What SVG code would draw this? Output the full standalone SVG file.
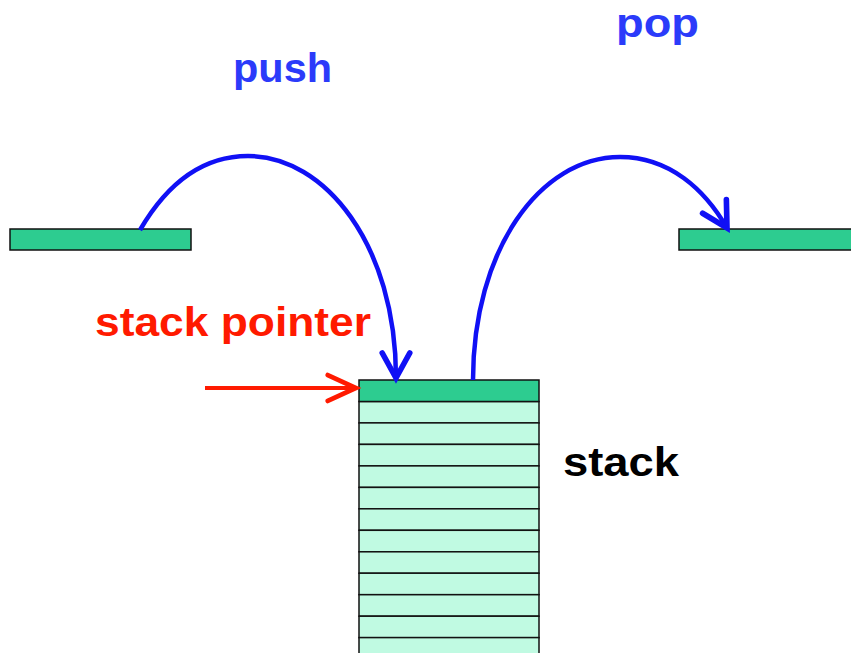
<svg xmlns="http://www.w3.org/2000/svg" width="851" height="653" viewBox="0 0 851 653">
<defs>
<style>
.t{font-family:"Liberation Sans",Arial,sans-serif;font-weight:bold;font-size:40px}
.blue{fill:#2B3BFA}
.red{fill:#FF1A00}
.dark{fill:#2DCC90;stroke:#111;stroke-width:1.5}
.light{fill:#C0FAE2;stroke:#111;stroke-width:1.5}
.arc{fill:none;stroke:#1010F5;stroke-width:4.5}
</style>
<marker id="ab" markerUnits="userSpaceOnUse" markerWidth="40" markerHeight="40" viewBox="-24 -16 30 32" refX="0" refY="0" orient="auto">
<path d="M-20,-11 L0,0 L-20,11" fill="none" stroke="#1010F5" stroke-width="4.5" stroke-linecap="round"/>
</marker>
<marker id="ar" markerUnits="userSpaceOnUse" markerWidth="40" markerHeight="40" viewBox="-30 -16 34 32" refX="0" refY="0" orient="auto">
<path d="M-24,-11 L0,0 L-24,11" fill="none" stroke="#FF1A00" stroke-width="4" stroke-linecap="round"/>
</marker>
</defs>
<rect width="851" height="653" fill="#fff"/>
<g id="left-item"><rect class="dark" x="10" y="229" width="181" height="21"/></g>
<g id="right-item"><rect class="dark" x="679" y="229" width="175" height="21"/></g>
<g id="stack">
<rect class="light" x="359" y="401.5" width="180" height="21.47"/>
<rect class="light" x="359" y="422.9" width="180" height="21.47"/>
<rect class="light" x="359" y="444.4" width="180" height="21.47"/>
<rect class="light" x="359" y="465.9" width="180" height="21.47"/>
<rect class="light" x="359" y="487.4" width="180" height="21.47"/>
<rect class="light" x="359" y="508.8" width="180" height="21.47"/>
<rect class="light" x="359" y="530.3" width="180" height="21.47"/>
<rect class="light" x="359" y="551.8" width="180" height="21.47"/>
<rect class="light" x="359" y="573.2" width="180" height="21.47"/>
<rect class="light" x="359" y="594.7" width="180" height="21.47"/>
<rect class="light" x="359" y="616.2" width="180" height="21.47"/>
<rect class="light" x="359" y="637.6" width="180" height="21.47"/>
<rect class="dark" x="359" y="380" width="180" height="21.5"/>
</g>
<g id="labels">
<text class="t blue" x="233" y="82" textLength="99" lengthAdjust="spacingAndGlyphs">push</text>
<text class="t blue" x="616" y="37" textLength="83" lengthAdjust="spacingAndGlyphs">pop</text>
<text class="t red" x="95" y="336" textLength="276" lengthAdjust="spacingAndGlyphs">stack pointer</text>
<text class="t" x="563" y="476" fill="#000" textLength="116" lengthAdjust="spacingAndGlyphs">stack</text>
</g>
<g id="connectors">
<path class="arc" d="M140,230 C175,170 215,156 248,156 C325,156 396,245 396,378" marker-end="url(#ab)"/>
<path class="arc" d="M473,380 C473,250 540,157 620,157 C670,157 705,190 727,228" marker-end="url(#ab)"/>
<path d="M205,388 L356,388" fill="none" stroke="#FF1A00" stroke-width="4" marker-end="url(#ar)"/>
</g>
</svg>
